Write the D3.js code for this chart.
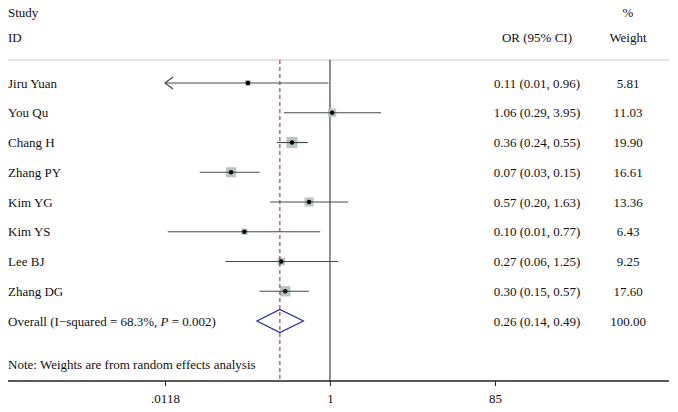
<!DOCTYPE html>
<html><head><meta charset="utf-8">
<script src="https://cdn.jsdelivr.net/npm/d3@7"></script>
<style>body{margin:0;background:#fff}svg{display:block}text{font-family:"Liberation Serif","Times New Roman",serif;fill:#111}</style>
</head><body><svg id="c" width="678" height="412"></svg>
<script>
const studies = ["Jiru Yuan","You Qu","Chang H","Zhang PY","Kim YG","Kim YS","Lee BJ","Zhang DG"];
const orVals = [0.11,1.06,0.36,0.07,0.57,0.10,0.27,0.30];
const ciLow = [0.010,0.29,0.24,0.03,0.20,0.0127,0.06,0.15];
const ciHigh = [0.96,3.95,0.55,0.15,1.63,0.77,1.25,0.57];
const ciText = ["0.11 (0.01, 0.96)","1.06 (0.29, 3.95)","0.36 (0.24, 0.55)","0.07 (0.03, 0.15)","0.57 (0.20, 1.63)","0.10 (0.01, 0.77)","0.27 (0.06, 1.25)","0.30 (0.15, 0.57)"];
const weights = [5.81,11.03,19.90,16.61,13.36,6.43,9.25,17.60];
const weightText = ["5.81","11.03","19.90","16.61","13.36","6.43","9.25","17.60"];
const overall = {or:0.26, lo:0.14, hi:0.49, label:"Overall (I\u2212squared = 68.3%, ", pLabel:"P", pRest:" = 0.002)", ciText:"0.26 (0.14, 0.49)", weight:"100.00"};
const tickVals = [0.0118, 1, 85];
const tickLabels = [".0118","1","85"];

const svg = d3.select("#c");
const x = d3.scaleLog().domain([0.0118, 85]).range([165, 495]);
const rows = studies.concat(["Overall"]);
const y = d3.scalePoint().domain(rows).range([83, 321]);
const box = d3.scaleSqrt().domain([0, 19.9]).range([0, 11]);
const fs = "13px";
const yTop = 60, yBottom = 381;

// headers
svg.append("text").attr("x",8).attr("y",17).style("font-size",fs).text("Study");
svg.append("text").attr("x",8).attr("y",42).style("font-size",fs).text("ID");
svg.append("text").attr("x",537).attr("y",42).attr("text-anchor","middle").style("font-size",fs).text("OR (95% CI)");
svg.append("text").attr("x",628).attr("y",17).attr("text-anchor","middle").style("font-size",fs).text("%");
svg.append("text").attr("x",628).attr("y",42).attr("text-anchor","middle").style("font-size",fs).text("Weight");
svg.append("line").attr("x1",8).attr("x2",669).attr("y1",yTop).attr("y2",yTop).attr("stroke","#c8c8c8").attr("stroke-width",1);

// null line
svg.append("line").attr("x1",x(1)).attr("x2",x(1)).attr("y1",yTop).attr("y2",yBottom).attr("stroke","#6a6a6a").attr("stroke-width",1.5);

// boxes
const [dmin, dmax] = x.domain();
studies.forEach((s,i)=>{
  const b = box(weights[i]);
  svg.append("rect").attr("x",x(orVals[i])-b/2).attr("y",y(s)-b/2).attr("width",b).attr("height",b).attr("fill","#b9c4c4");
});
// dashed overall line
svg.append("line").attr("x1",x(overall.or)).attr("x2",x(overall.or)).attr("y1",yTop).attr("y2",yBottom)
  .attr("stroke","#8b1f45").attr("stroke-width",1).attr("stroke-dasharray","4,3");
studies.forEach((s,i)=>{
  const lo = Math.max(ciLow[i], dmin), hi = Math.min(ciHigh[i], dmax);
  svg.append("line").attr("x1",x(lo)).attr("x2",x(hi)).attr("y1",y(s)).attr("y2",y(s)).attr("stroke","#4a4a4a").attr("stroke-width",1.2);
  if (ciLow[i] < dmin) {
    const ax = x(dmin), ay = y(s);
    svg.append("path").attr("d",`M${ax+8},${ay-6}L${ax},${ay}L${ax+8},${ay+6}`).attr("fill","none").attr("stroke","#4a4a4a").attr("stroke-width",1.2);
  }
  svg.append("circle").attr("cx",x(orVals[i])).attr("cy",y(s)).attr("r",2.2).attr("fill","#000");
});
// diamond
const oy = y("Overall");
svg.append("path").attr("d",`M${x(overall.lo)},${oy}L${x(overall.or)},${oy-11.5}L${x(overall.hi)},${oy}L${x(overall.or)},${oy+11.5}Z`)
  .attr("fill","none").attr("stroke","#2a2a8a").attr("stroke-width",1.2);

// labels
studies.forEach((s,i)=>{
  svg.append("text").attr("x",8).attr("y",y(s)+4.5).style("font-size",fs).text(s);
  svg.append("text").attr("x",537).attr("y",y(s)+4.5).attr("text-anchor","middle").style("font-size",fs).text(ciText[i]);
  svg.append("text").attr("x",628).attr("y",y(s)+4.5).attr("text-anchor","middle").style("font-size",fs).text(weightText[i]);
});
const ot = svg.append("text").attr("x",8).attr("y",oy+4.5).style("font-size",fs);
ot.append("tspan").text(overall.label);
ot.append("tspan").style("font-style","italic").text(overall.pLabel);
ot.append("tspan").text(overall.pRest);
svg.append("text").attr("x",537).attr("y",oy+4.5).attr("text-anchor","middle").style("font-size",fs).text(overall.ciText);
svg.append("text").attr("x",628).attr("y",oy+4.5).attr("text-anchor","middle").style("font-size",fs).text(overall.weight);
svg.append("text").attr("x",8).attr("y",369).style("font-size",fs).text("Note: Weights are from random effects analysis");

// axis
svg.append("line").attr("x1",8).attr("x2",669).attr("y1",yBottom).attr("y2",yBottom).attr("stroke","#222").attr("stroke-width",1.3);
const axis = d3.axisBottom(x).tickValues(tickVals).tickFormat((d,i)=>tickLabels[i]).tickSize(5).tickPadding(8);
const ag = svg.append("g").attr("transform",`translate(0,${yBottom})`).call(axis);
ag.select(".domain").remove();
ag.selectAll(".tick line").attr("stroke","#222");
ag.selectAll(".tick text").style("font-family","'Liberation Serif',serif").style("font-size",fs).attr("fill","#111");
</script></body></html>
